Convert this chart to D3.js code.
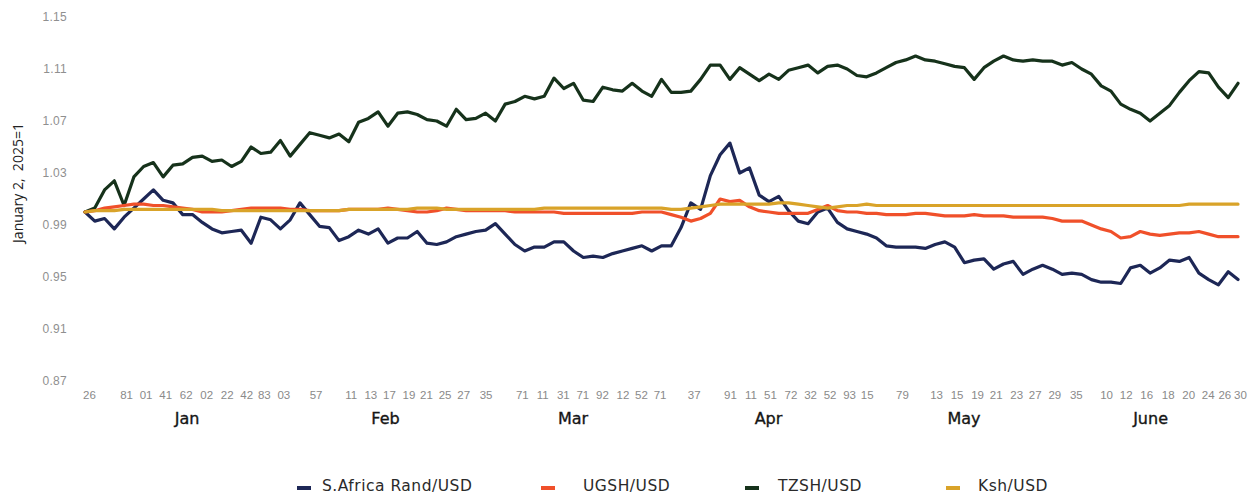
<!DOCTYPE html>
<html>
<head>
<meta charset="utf-8">
<script src="https://cdn.jsdelivr.net/npm/d3@7"></script>
<style>
  body { margin: 0; background: #fff; }
  svg { display: block; font-family: 'Open Sans', 'DejaVu Sans', sans-serif; }
  .line { fill: none; stroke-width: 3.2; stroke-linejoin: round; stroke-linecap: round; }
  .y.axis text { fill: #8f8f8f; font-size: 12px; letter-spacing: 0.3px; }
  .x.axis text { fill: #8a8a8a; font-size: 11.5px; }
  .month.axis text { fill: #151515; stroke: #151515; stroke-width: 0.35px; font-size: 16px; font-family: 'DejaVu Sans', sans-serif; }
  .legend text { fill: #2a2a2a; font-size: 15.5px; font-family: 'DejaVu Sans', sans-serif; letter-spacing: 0.5px; }
</style>
</head>
<body>
<script>
// values, rebased so January 2, 2025 = 1
const yTicks = [0.87, 0.91, 0.95, 0.99, 1.03, 1.07, 1.11, 1.15]

const tickLabels = ['26', '81', '01', '41', '62', '02', '22', '42', '83', '03', '57',
  '11', '13', '17', '19', '21', '25', '27', '35',
  '71', '11', '31', '71', '92', '12', '52', '71', '37',
  '91', '11', '51', '72', '32', '52', '93', '15', '79',
  '13', '15', '19', '21', '23', '27', '29', '35',
  '10', '12', '16', '18', '20', '24', '26', '30']
const tickIndex = [0.4, 4.2, 6.2, 8.2, 10.3, 12.4, 14.5, 16.5, 18.3, 20.3, 23.6,
  27.2, 29.2, 31.1, 33.1, 34.9, 36.8, 38.7, 41.0,
  44.7, 46.8, 48.9, 50.9, 52.9, 55.0, 56.9, 58.8, 62.3,
  66.0, 68.1, 70.1, 72.2, 74.2, 76.2, 78.2, 80.0, 83.6,
  87.1, 89.2, 91.3, 93.2, 95.3, 97.2, 99.2, 101.4,
  104.5, 106.5, 108.6, 110.8, 112.9, 114.9, 116.6, 118.2]

const months = ['Jan', 'Feb', 'Mar', 'Apr', 'May', 'June']
const monthIndex = [10.4, 30.7, 49.9, 69.9, 89.9, 109.0]

const seriesNames = ['S.Africa Rand/USD', 'UGSH/USD', 'TZSH/USD', 'Ksh/USD']
const seriesColors = ['#1d2756', '#f0502a', '#16321b', '#d9a329']

const randUsd = [
  1.000, 0.993, 0.995, 0.987, 0.996, 1.003, 1.010, 1.017, 1.009, 1.007,
  0.998, 0.998, 0.992, 0.987, 0.984, 0.985, 0.986, 0.976, 0.996, 0.994,
  0.987, 0.994, 1.007, 0.998, 0.989, 0.988, 0.978, 0.981, 0.986, 0.983,
  0.987, 0.976, 0.980, 0.980, 0.985, 0.976, 0.975, 0.977, 0.981, 0.983,
  0.985, 0.986, 0.991, 0.983, 0.975, 0.970, 0.973, 0.973, 0.977, 0.977,
  0.970, 0.965, 0.966, 0.965, 0.968, 0.970, 0.972, 0.974, 0.970, 0.974,
  0.974, 0.988, 1.007, 1.002, 1.028, 1.044, 1.053, 1.030, 1.034, 1.013,
  1.008, 1.012, 1.001, 0.993, 0.991, 1.000, 1.003, 0.992, 0.987, 0.985,
  0.983, 0.980, 0.974, 0.973, 0.973, 0.973, 0.972, 0.975, 0.977, 0.973,
  0.961, 0.963, 0.964, 0.956, 0.960, 0.962, 0.952, 0.956, 0.959, 0.956,
  0.952, 0.953, 0.952, 0.948, 0.946, 0.946, 0.945, 0.957, 0.959, 0.953,
  0.957, 0.963, 0.962, 0.965, 0.953, 0.948, 0.944, 0.954, 0.948]

const ugshUsd = [
  1.000, 1.001, 1.003, 1.004, 1.005, 1.006, 1.006, 1.005, 1.005, 1.004,
  1.003, 1.002, 1.000, 1.000, 1.000, 1.001, 1.002, 1.003, 1.003, 1.003,
  1.003, 1.002, 1.002, 1.001, 1.001, 1.001, 1.001, 1.002, 1.002, 1.002,
  1.002, 1.003, 1.002, 1.001, 1.000, 1.000, 1.001, 1.003, 1.002, 1.001,
  1.001, 1.001, 1.001, 1.001, 1.000, 1.000, 1.000, 1.000, 1.000, 0.999,
  0.999, 0.999, 0.999, 0.999, 0.999, 0.999, 0.999, 1.000, 1.000, 1.000,
  0.998, 0.996, 0.993, 0.995, 0.999, 1.010, 1.008, 1.009, 1.004, 1.001,
  1.000, 0.999, 0.999, 0.999, 0.999, 1.002, 1.005, 1.001, 1.000, 1.000,
  0.999, 0.999, 0.998, 0.998, 0.998, 0.999, 0.999, 0.998, 0.997, 0.997,
  0.997, 0.998, 0.997, 0.997, 0.997, 0.996, 0.996, 0.996, 0.996, 0.995,
  0.993, 0.993, 0.993, 0.990, 0.987, 0.985, 0.980, 0.981, 0.985, 0.983,
  0.982, 0.983, 0.984, 0.984, 0.985, 0.983, 0.981, 0.981, 0.981]

const tzshUsd = [
  1.000, 1.003, 1.017, 1.024, 1.005, 1.027, 1.035, 1.038, 1.027, 1.036,
  1.037, 1.042, 1.043, 1.039, 1.040, 1.035, 1.039, 1.050, 1.045, 1.046,
  1.055, 1.043, 1.052, 1.061, 1.059, 1.057, 1.060, 1.054, 1.069, 1.072,
  1.077, 1.066, 1.076, 1.077, 1.075, 1.071, 1.070, 1.066, 1.079, 1.071,
  1.072, 1.076, 1.070, 1.083, 1.085, 1.089, 1.087, 1.089, 1.103, 1.095,
  1.099, 1.086, 1.085, 1.096, 1.094, 1.093, 1.099, 1.093, 1.089, 1.102,
  1.092, 1.092, 1.093, 1.102, 1.113, 1.113, 1.102, 1.111, 1.106, 1.101,
  1.106, 1.102, 1.109, 1.111, 1.113, 1.107, 1.112, 1.113, 1.110, 1.105,
  1.104, 1.107, 1.111, 1.115, 1.117, 1.120, 1.117, 1.116, 1.114, 1.112,
  1.111, 1.102, 1.111, 1.116, 1.120, 1.117, 1.116, 1.117, 1.116, 1.116,
  1.113, 1.115, 1.110, 1.106, 1.097, 1.093, 1.083, 1.079, 1.076, 1.070,
  1.076, 1.082, 1.092, 1.101, 1.108, 1.107, 1.096, 1.088, 1.099]

const kshUsd = [
  1.000, 1.001, 1.001, 1.001, 1.002, 1.002, 1.002, 1.002, 1.002, 1.002,
  1.002, 1.002, 1.002, 1.002, 1.001, 1.001, 1.001, 1.001, 1.001, 1.001,
  1.001, 1.001, 1.001, 1.001, 1.001, 1.001, 1.001, 1.002, 1.002, 1.002,
  1.002, 1.002, 1.002, 1.002, 1.003, 1.003, 1.003, 1.002, 1.002, 1.002,
  1.002, 1.002, 1.002, 1.002, 1.002, 1.002, 1.002, 1.003, 1.003, 1.003,
  1.003, 1.003, 1.003, 1.003, 1.003, 1.003, 1.003, 1.003, 1.003, 1.003,
  1.002, 1.002, 1.003, 1.004, 1.005, 1.006, 1.006, 1.006, 1.006, 1.006,
  1.006, 1.007, 1.007, 1.006, 1.005, 1.004, 1.003, 1.004, 1.005, 1.005,
  1.006, 1.005, 1.005, 1.005, 1.005, 1.005, 1.005, 1.005, 1.005, 1.005,
  1.005, 1.005, 1.005, 1.005, 1.005, 1.005, 1.005, 1.005, 1.005, 1.005,
  1.005, 1.005, 1.005, 1.005, 1.005, 1.005, 1.005, 1.005, 1.005, 1.005,
  1.005, 1.005, 1.005, 1.006, 1.006, 1.006, 1.006, 1.006, 1.006]

class FxChart {
  constructor () {
    this.width = 1255
    this.height = 495
    this.plot = { left: 85, right: 1238, top: 17, bottom: 381 }
    this.series = [randUsd, ugshUsd, tzshUsd, kshUsd]
    this.xScale = d3.scaleLinear().domain([0, randUsd.length - 1]).range([this.plot.left, this.plot.right])
    this.yScale = d3.scaleLinear().domain([0.87, 1.15]).range([this.plot.bottom, this.plot.top])
    this.svg = d3.select('body').append('svg')
      .attr('width', this.width)
      .attr('height', this.height)

    this.init()
  }

  init () {
    this.drawAxes()
    this.drawLines()
    this.drawLegend()
  }

  drawAxes () {
    const yAxis = this.svg.append('g')
      .attr('class', 'y axis')
      .attr('transform', 'translate(67,0)')
      .call(d3.axisLeft(this.yScale).tickValues(yTicks).tickSize(0).tickPadding(0).tickFormat(d3.format('.2f')))
    yAxis.select('.domain').remove()
    yAxis.selectAll('text').attr('font-family', null)

    const xAxis = this.svg.append('g')
      .attr('class', 'x axis')
      .attr('transform', 'translate(0,391)')
      .call(d3.axisBottom(this.xScale).tickValues(tickIndex).tickSize(0).tickPadding(0)
        .tickFormat((d, i) => tickLabels[i]))
    xAxis.select('.domain').remove()
    xAxis.selectAll('text').attr('font-family', null)

    const monthAxis = this.svg.append('g')
      .attr('class', 'month axis')
      .attr('transform', 'translate(0,413)')
      .call(d3.axisBottom(this.xScale).tickValues(monthIndex).tickSize(0).tickPadding(0)
        .tickFormat((d, i) => months[i]))
    monthAxis.select('.domain').remove()
    monthAxis.selectAll('text').attr('font-family', null)

    this.svg.append('text')
      .attr('transform', 'translate(23,183) rotate(-90)')
      .attr('text-anchor', 'middle')
      .attr('fill', '#222')
      .attr('font-size', 14)
      .attr('xml:space', 'preserve')
      .text('January 2,  2025=1')
  }

  drawLines () {
    const line = d3.line()
      .x((d, i) => this.xScale(i))
      .y(d => this.yScale(d))

    // draw order: rand, tzsh, ugsh, ksh on top
    const order = [0, 2, 1, 3]
    order.forEach(k => {
      this.svg.append('path')
        .datum(this.series[k])
        .attr('class', 'line')
        .attr('stroke', seriesColors[k])
        .attr('d', line)
    })
  }

  drawLegend () {
    const markerX = [297, 541, 745, 946]
    const textX = [322, 583, 778, 978]
    const legend = this.svg.append('g').attr('class', 'legend')
    seriesNames.forEach((name, i) => {
      legend.append('line')
        .attr('x1', markerX[i]).attr('x2', markerX[i] + 14)
        .attr('y1', 488).attr('y2', 488)
        .attr('stroke', seriesColors[i])
        .attr('stroke-width', 4)
      legend.append('text')
        .attr('x', textX[i])
        .attr('y', 491)
        .text(name)
    })
  }
}

new FxChart()
</script>
</body>
</html>
